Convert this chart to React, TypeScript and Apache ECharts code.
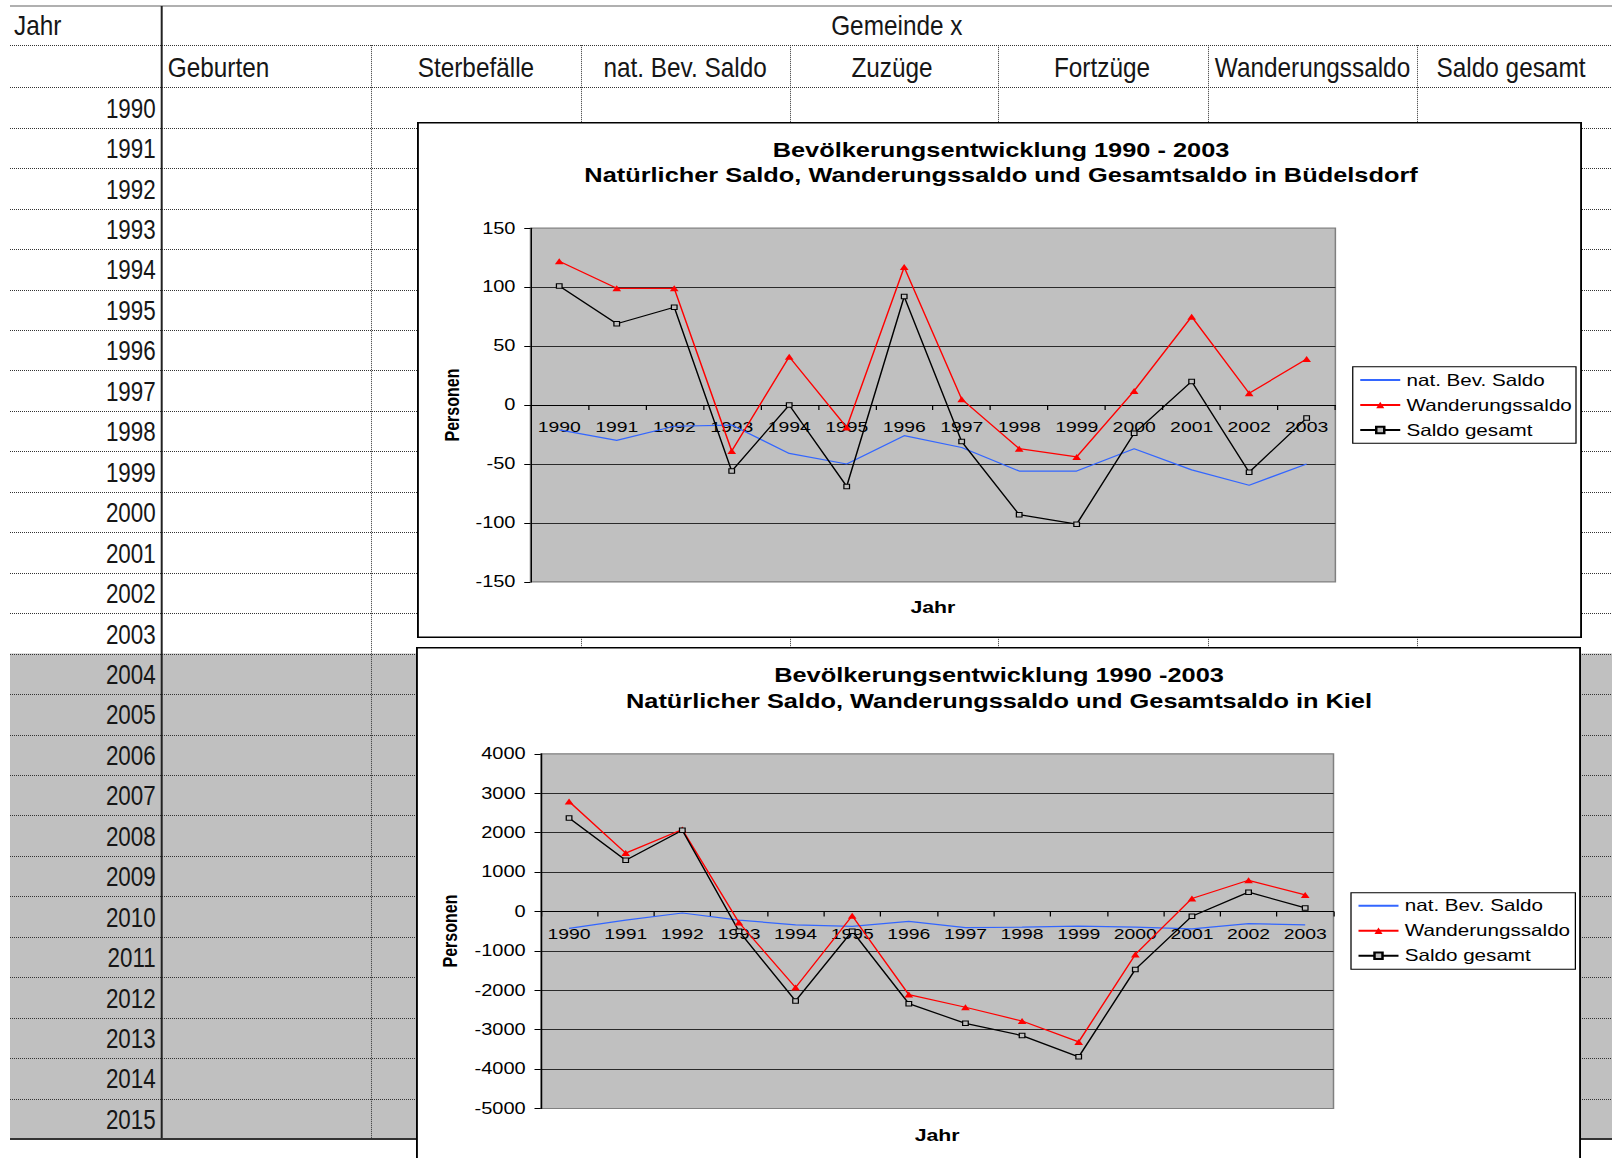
import React, { useEffect, useRef } from "react";
import * as echarts from "echarts";

// ---- Chart data -------------------------------------------------------
const YEARS = ["1990", "1991", "1992", "1993", "1994", "1995", "1996", "1997", "1998", "1999", "2000", "2001", "2002", "2003"];
const SERIES_NAMES = ["nat. Bev. Saldo", "Wanderungssaldo", "Saldo gesamt"];

// Büdelsdorf
const BUED_NAT = [-21, -30, -18, -17, -41, -50, -26, -36, -56, -56, -37, -55, -68, -50];
const BUED_WANDER = [122, 99, 99, -39, 41, -19, 117, 5, -37, -44, 12, 75, 10, 39];
const BUED_GESAMT = [101, 69, 83, -56, 0, -69, 92, -31, -93, -101, -24, 20, -57, -11];
const BUED_Y = { min: -150, max: 150, step: 50 };

// Kiel
const KIEL_NAT = [-430, -220, -40, -220, -340, -380, -250, -410, -400, -370, -400, -440, -310, -340];
const KIEL_WANDER = [2790, 1480, 2080, -280, -1930, -110, -2110, -2430, -2780, -3310, -1090, 330, 790, 420];
const KIEL_GESAMT = [2370, 1300, 2060, -500, -2270, -500, -2340, -2840, -3150, -3690, -1470, -120, 490, 90];
const KIEL_Y = { min: -5000, max: 4000, step: 1000 };

// ---- Spreadsheet labels ------------------------------------------------
const SHEET_GROUP = "Gemeinde x";
const SHEET_FIRST_COL = "Jahr";
const SHEET_HEADERS = ["Geburten", "Sterbefälle", "nat. Bev. Saldo", "Zuzüge", "Fortzüge", "Wanderungssaldo", "Saldo gesamt"];
const SHEET_YEARS = ["1990", "1991", "1992", "1993", "1994", "1995", "1996", "1997", "1998", "1999", "2000", "2001", "2002", "2003", "2004", "2005", "2006", "2007", "2008", "2009", "2010", "2011", "2012", "2013", "2014", "2015"];

const FONT = "'Liberation Sans', Arial, sans-serif";
const STRETCH = 1.25;

// ---- Spreadsheet layout -----------------------------------------------
const SHEET_LEFT = 10;
const SHEET_RIGHT = 1612;
const SHEET_TOP = 6;
const ROW1_BOTTOM = 45.2;
const ROW2_BOTTOM = 87.3;
const ROW_H = 40.45;
const TEXT_LIFT = 20;
const YEAR_COL_X = 161.7;
const COL_LINES = [371, 580.8, 789.5, 998.2, 1207.9, 1416.6];
const HEADER_CENTERS = [null, 475.9, 685.1, 892, 1102, 1312.5, 1511];
const SHADED_FROM = 14; // rows from 2004 onwards are shaded

function sheetOption() {
  const els: any[] = [];
  const tableBottom = ROW2_BOTTOM + SHEET_YEARS.length * ROW_H;
  const shadeTop = ROW2_BOTTOM + SHADED_FROM * ROW_H;
  els.push({
    type: "rect",
    shape: { x: SHEET_LEFT, y: shadeTop, width: SHEET_RIGHT - SHEET_LEFT, height: tableBottom - shadeTop },
    style: { fill: "#C0C0C0" },
    silent: true,
  });
  const dotted = { stroke: "#333", lineWidth: 1, lineDash: [1, 1] };
  const hLines = [ROW1_BOTTOM, ROW2_BOTTOM];
  for (let i = 1; i < SHEET_YEARS.length; i++) hLines.push(ROW2_BOTTOM + i * ROW_H);
  hLines.forEach((y) => {
    const yy = Math.round(y) + 0.5;
    els.push({ type: "line", shape: { x1: SHEET_LEFT, y1: yy, x2: SHEET_RIGHT, y2: yy }, style: dotted, silent: true });
  });
  COL_LINES.forEach((x) => {
    const xx = Math.round(x) + 0.5;
    els.push({ type: "line", shape: { x1: xx, y1: ROW1_BOTTOM, x2: xx, y2: tableBottom }, style: dotted, silent: true });
  });
  els.push({ type: "line", shape: { x1: SHEET_LEFT, y1: SHEET_TOP, x2: SHEET_RIGHT, y2: SHEET_TOP }, style: { stroke: "#b0b0b0", lineWidth: 2 }, silent: true });
  els.push({ type: "line", shape: { x1: YEAR_COL_X, y1: SHEET_TOP, x2: YEAR_COL_X, y2: tableBottom }, style: { stroke: "#222", lineWidth: 2 }, silent: true });
  els.push({ type: "line", shape: { x1: SHEET_LEFT, y1: tableBottom, x2: SHEET_RIGHT, y2: tableBottom }, style: { stroke: "#333", lineWidth: 2 }, silent: true });

  const txt = (text: string, x: number, y: number, align: string, sx: number) => ({
    type: "text",
    x,
    y,
    scaleX: sx,
    silent: true,
    style: { text, fontSize: 28, fontFamily: FONT, fill: "#161616", align, verticalAlign: "middle" },
  });
  els.push(txt(SHEET_FIRST_COL, 14, ROW1_BOTTOM - TEXT_LIFT, "left", 0.87));
  els.push(txt(SHEET_GROUP, 896.8, ROW1_BOTTOM - TEXT_LIFT, "center", 0.87));
  SHEET_HEADERS.forEach((h, i) => {
    const c = HEADER_CENTERS[i];
    if (c === null) els.push(txt(h, YEAR_COL_X + 6, ROW2_BOTTOM - TEXT_LIFT, "left", 0.87));
    else els.push(txt(h, c, ROW2_BOTTOM - TEXT_LIFT, "center", 0.87));
  });
  SHEET_YEARS.forEach((y, i) => {
    els.push(txt(y, 155.7, ROW2_BOTTOM + (i + 1) * ROW_H - TEXT_LIFT, "right", 0.8));
  });
  return { animation: false, graphic: { elements: els } };
}

// ---- Line chart ----------------------------------------------------------
interface ChartCfg {
  width: number;
  height: number;
  bottomBorder: boolean;
  title1: string;
  title2: string;
  titleX: number;
  titleY: [number, number];
  grid: { left: number; top: number; width: number; height: number };
  yRange: { min: number; max: number; step: number };
  nat: number[];
  wander: number[];
  gesamt: number[];
  jahr: [number, number];
  personen: [number, number];
  legendBox: { x: number; y: number; w: number; h: number };
  legendPos: [number, number];
}

function chartOption(c: ChartCfg) {
  const boldText = (text: string, x: number, y: number, size: number, rotation = 0) => ({
    type: "text",
    x,
    y,
    rotation,
    silent: true,
    style: { text, fontSize: size, fontWeight: "bold", fontFamily: FONT, fill: "#000", align: "center", verticalAlign: "middle" },
  });
  // the category axis sits on the value 0 line of the grid
  const zeroOffset = -c.grid.height * (0 - c.yRange.min) / (c.yRange.max - c.yRange.min);
  return {
    animation: false,
    backgroundColor: "#ffffff",
    textStyle: { fontFamily: FONT },
    graphic: {
      elements: [
        {
          type: "rect",
          z: 100,
          silent: true,
          shape: { x: 0.75, y: 0.75, width: c.width - 1.5, height: c.bottomBorder ? c.height - 1.5 : c.height + 20 },
          style: { fill: "none", stroke: "#000", lineWidth: 1.5 },
        },
        {
          type: "rect",
          silent: true,
          shape: { x: c.legendBox.x, y: c.legendBox.y, width: c.legendBox.w, height: c.legendBox.h },
          style: { fill: "#fff", stroke: "#000", lineWidth: 1 },
        },
        boldText(c.title1, c.titleX, c.titleY[0], 20.3),
        boldText(c.title2, c.titleX, c.titleY[1], 20.3),
        boldText("Jahr", c.jahr[0], c.jahr[1], 17),
        boldText("Personen", c.personen[0], c.personen[1], 16, Math.PI / 2),
      ],
    },
    grid: {
      left: c.grid.left,
      top: c.grid.top,
      width: c.grid.width,
      height: c.grid.height,
      show: true,
      backgroundColor: "#C0C0C0",
      borderColor: "#808080",
      borderWidth: 1.2,
    },
    legend: {
      orient: "vertical",
      left: c.legendPos[0],
      top: c.legendPos[1],
      padding: 0,
      itemWidth: 32,
      itemHeight: 8,
      itemGap: 8,
      data: [
        { name: SERIES_NAMES[0], itemStyle: { opacity: 0 } },
        { name: SERIES_NAMES[1] },
        { name: SERIES_NAMES[2] },
      ],
      textStyle: { fontSize: 16.5, lineHeight: 17, color: "#000", fontFamily: FONT },
    },
    xAxis: {
      type: "category",
      data: YEARS,
      boundaryGap: true,
      position: "bottom",
      offset: zeroOffset,
      axisLine: { onZero: false, lineStyle: { color: "#000", width: 1 } },
      axisTick: { show: true, length: 5, lineStyle: { color: "#000" } },
      axisLabel: { interval: 0, fontSize: 15.5, color: "#000", margin: 14, fontFamily: FONT },
      splitLine: { show: false },
    },
    yAxis: {
      type: "value",
      min: c.yRange.min,
      max: c.yRange.max,
      interval: c.yRange.step,
      axisLine: { show: true, lineStyle: { color: "#000", width: 1 } },
      axisTick: { show: true, length: 5, lineStyle: { color: "#000" } },
      axisLabel: { fontSize: 16, color: "#000", margin: 12, fontFamily: FONT, formatter: (v: number) => String(v) },
      splitLine: { show: true, showMinLine: false, showMaxLine: false, lineStyle: { color: "#2a2a2a", width: 1 } },
    },
    series: [
      {
        name: SERIES_NAMES[0],
        type: "line",
        data: c.nat,
        symbol: "none",
        lineStyle: { color: "#3366FF", width: 1.2 },
        itemStyle: { color: "#3366FF" },
      },
      {
        name: SERIES_NAMES[1],
        type: "line",
        data: c.wander,
        symbol: "triangle",
        symbolSize: [7, 6],
        showAllSymbol: true,
        lineStyle: { color: "#FF0000", width: 1.2 },
        itemStyle: { color: "#FF0000" },
      },
      {
        name: SERIES_NAMES[2],
        type: "line",
        data: c.gesamt,
        symbol: "rect",
        symbolSize: [4.5, 4.5],
        showAllSymbol: true,
        lineStyle: { color: "#000", width: 1.2 },
        itemStyle: { color: "#C0C0C0", borderColor: "#000", borderWidth: 1 },
      },
    ],
  };
}

const CHART1 = { left: 417, top: 122, width: 932, height: 516 };
const CHART2 = { left: 416, top: 647, width: 932, height: 511 };

export default function App() {
  const sheetRef = useRef<HTMLDivElement>(null);
  const c1Ref = useRef<HTMLDivElement>(null);
  const c2Ref = useRef<HTMLDivElement>(null);

  useEffect(() => {
    const sheet = echarts.init(sheetRef.current!, null, { renderer: "svg" });
    sheet.setOption(sheetOption());

    const c1 = echarts.init(c1Ref.current!, null, { renderer: "svg" });
    c1.setOption(
      chartOption({
        width: CHART1.width,
        height: CHART1.height,
        bottomBorder: true,
        title1: "Bevölkerungsentwicklung 1990 - 2003",
        title2: "Natürlicher Saldo, Wanderungssaldo und Gesamtsaldo in Büdelsdorf",
        titleX: 467.2,
        titleY: [28, 52.8],
        grid: { left: 90.8, top: 106.2, width: 643.9, height: 353.7 },
        yRange: BUED_Y,
        nat: BUED_NAT,
        wander: BUED_WANDER,
        gesamt: BUED_GESAMT,
        jahr: [412.7, 485.6],
        personen: [28, 283],
        legendBox: { x: 748.6, y: 244.7, w: 178.6, h: 76.6 },
        legendPos: [753.6, 249.5],
      })
    );

    const c2 = echarts.init(c2Ref.current!, null, { renderer: "svg" });
    c2.setOption(
      chartOption({
        width: CHART2.width,
        height: CHART2.height,
        bottomBorder: false,
        title1: "Bevölkerungsentwicklung 1990 -2003",
        title2: "Natürlicher Saldo, Wanderungssaldo und Gesamtsaldo in Kiel",
        titleX: 466.4,
        titleY: [28.4, 54.1],
        grid: { left: 99.8, top: 106.8, width: 634.2, height: 354.7 },
        yRange: KIEL_Y,
        nat: KIEL_NAT,
        wander: KIEL_WANDER,
        gesamt: KIEL_GESAMT,
        jahr: [416.9, 488],
        personen: [27.2, 284],
        legendBox: { x: 748, y: 245.7, w: 179.5, h: 76.6 },
        legendPos: [753, 250.2],
      })
    );

    return () => {
      sheet.dispose();
      c1.dispose();
      c2.dispose();
    };
  }, []);

  const chartBox = (b: { left: number; top: number; width: number; height: number }): React.CSSProperties => ({
    position: "absolute",
    left: b.left,
    top: b.top,
    width: b.width,
    height: b.height,
    transform: `scaleX(${STRETCH})`,
    transformOrigin: "0 0",
  });

  return (
    <div style={{ position: "absolute", left: 0, top: 0, width: 1612, height: 1158, overflow: "hidden", background: "#fff" }}>
      <div ref={sheetRef} style={{ position: "absolute", left: 0, top: 0, width: 1612, height: 1158 }} />
      <div ref={c1Ref} style={chartBox(CHART1)} />
      <div ref={c2Ref} style={chartBox(CHART2)} />
    </div>
  );
}
